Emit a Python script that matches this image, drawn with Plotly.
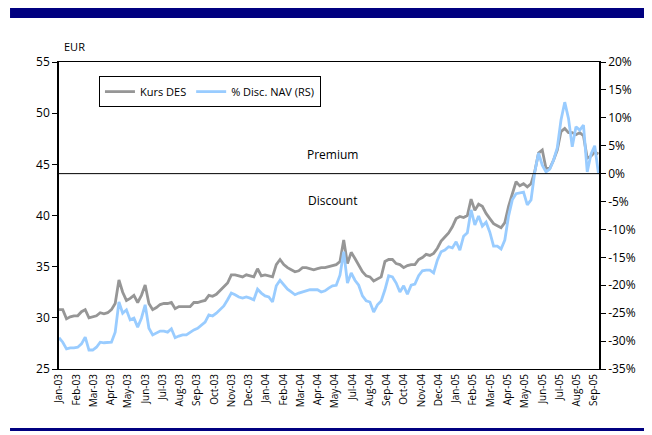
import pandas as pd
import plotly.graph_objects as go

# ---- data (weekly readings from 2003-01-01) ----
start_date = "2003-01-01"
kurs_des = [
    30.8, 30.8, 29.9, 30.1, 30.2, 30.2, 30.6, 30.8, 30.0, 30.1,
    30.2, 30.5, 30.4, 30.5, 30.8, 31.4, 33.7, 32.5, 31.7, 31.9,
    32.2, 31.5, 32.2, 33.2, 31.4, 30.8, 31.0, 31.3, 31.4, 31.4,
    31.5, 30.9, 31.1, 31.1, 31.1, 31.1, 31.5, 31.5, 31.6, 31.7,
    32.2, 32.1, 32.3, 32.7, 33.0, 33.4, 34.2, 34.2, 34.1, 34.0,
    34.2, 34.1, 34.0, 34.8, 34.1, 34.2, 34.1, 34.0, 35.2, 35.7,
    35.2, 34.9, 34.7, 34.5, 34.6, 34.9, 34.9, 34.8, 34.7, 34.8,
    34.9, 34.9, 35.0, 35.1, 35.2, 35.5, 37.6, 35.3, 36.4, 35.8,
    35.2, 34.5, 34.1, 34.0, 33.6, 33.8, 34.0, 35.5, 35.7, 35.7,
    35.3, 35.2, 34.9, 35.1, 35.2, 35.2, 35.7, 35.9, 36.2, 36.1,
    36.3, 36.8, 37.5, 37.9, 38.3, 38.9, 39.7, 39.9, 39.8, 40.0,
    41.6, 40.5, 41.1, 40.9, 40.2, 39.7, 39.2, 39.0, 38.8, 39.3,
    40.9, 42.1, 43.3, 42.9, 43.1, 42.8, 43.1, 44.3, 46.1, 46.4,
    44.6, 44.6, 45.4, 46.4, 48.2, 48.5, 48.1, 48.1, 47.9, 48.1,
    47.8, 45.6, 45.8, 46.2, 46.0,
]
disc_nav = [
    -29.4, -30.2, -31.4, -31.2, -31.2, -31.1, -30.5, -29.3, -31.6, -31.6,
    -31.1, -30.2, -30.3, -30.3, -30.2, -28.4, -23.0, -25.0, -24.4, -26.2,
    -25.9, -27.5, -25.9, -23.5, -27.7, -28.9, -28.6, -28.2, -28.2, -28.4,
    -27.8, -29.4, -29.1, -28.9, -28.9, -28.4, -28.0, -27.7, -27.1, -26.6,
    -25.3, -25.5, -25.0, -24.3, -23.7, -22.6, -21.4, -21.7, -22.1, -22.3,
    -22.1, -22.3, -22.6, -20.7, -21.4, -21.9, -22.1, -23.0, -20.1, -19.1,
    -20.0, -20.7, -21.2, -21.7, -21.4, -21.2, -21.0, -20.8, -20.8, -20.8,
    -21.2, -21.0, -20.5, -20.1, -20.0, -18.2, -14.0, -19.6, -17.8, -19.1,
    -20.0, -21.9, -22.8, -23.0, -24.8, -23.5, -22.8, -20.8, -18.3, -18.5,
    -19.6, -21.2, -20.1, -21.6, -20.0, -19.8, -18.3, -17.4, -17.3, -17.3,
    -17.8, -15.5, -14.0, -13.7, -13.1, -13.3, -12.2, -13.7, -11.2, -10.6,
    -6.5, -9.2, -7.6, -9.4, -8.7, -10.5, -13.0, -13.0, -13.5, -11.9,
    -7.6, -4.7, -3.6, -3.5, -3.3, -5.6, -4.7, 0.3, 3.7, 1.5,
    0.3, 0.8, 2.4, 4.6, 9.6, 12.8, 9.9, 4.8, 8.4, 7.8,
    8.7, 0.3, 3.5, 5.0, 0.0,
]
month_labels = [
    "Jan-03", "Feb-03", "Mar-03", "Apr-03", "May-03", "Jun-03", "Jul-03", "Aug-03",
    "Sep-03", "Oct-03", "Nov-03", "Dec-03", "Jan-04", "Feb-04", "Mar-04", "Apr-04",
    "May-04", "Jul-04", "Aug-04", "Sep-04", "Oct-04", "Nov-04", "Dec-04", "Jan-05",
    "Feb-05", "Mar-05", "Apr-05", "May-05", "Jun-05", "Jul-05", "Aug-05", "Sep-05",
]
left_ticks = [25, 30, 35, 40, 45, 50, 55]
right_ticks = [20, 15, 10, 5, 0, -5, -10, -15, -20, -25, -30, -35]

dates = pd.date_range(start_date, periods=len(kurs_des), freq="7D")
t0 = pd.Timestamp(start_date)
tick_dates = [t0 + pd.Timedelta(days=32.25 * i) for i in range(len(month_labels))]

FONT = "Open Sans"
GREY = "#969696"
BLUE = "#99CCFF"
NAVY = "#000080"

fig = go.Figure()
fig.add_trace(go.Scatter(x=dates, y=kurs_des, name="Kurs DES", mode="lines",
                         line=dict(color=GREY, width=2.8), yaxis="y"))
fig.add_trace(go.Scatter(x=dates, y=disc_nav, name="% Disc. NAV (RS)", mode="lines",
                         line=dict(color=BLUE, width=2.8), yaxis="y2"))

fig.update_layout(
    width=644, height=427,
    margin=dict(l=51, r=53, t=54, b=66),
    paper_bgcolor="white", plot_bgcolor="white",
    font=dict(family=FONT, size=11, color="black"),
    showlegend=True,
    legend=dict(orientation="h", x=0.074, y=0.954, xanchor="left", yanchor="top",
                bordercolor="black", borderwidth=1, bgcolor="white",
                font=dict(family=FONT, size=11), itemwidth=30,
                tracegroupgap=0),
    xaxis=dict(type="date", range=[t0, t0 + pd.Timedelta(days=1009)],
               tickvals=tick_dates, ticktext=month_labels, tickangle=-90,
               showgrid=False, zeroline=False, showline=True, linecolor="black",
               linewidth=1, mirror=True, ticks="", tickfont=dict(size=10)),
    yaxis=dict(range=[25, 55], tickvals=left_ticks, ticks="outside", ticklen=5,
               tickcolor="black", showgrid=False, zeroline=False, showline=True,
               linecolor="black", linewidth=1.5, tickfont=dict(size=12)),
    yaxis2=dict(range=[-35, 20], overlaying="y", side="right",
                tickvals=right_ticks, ticktext=[f"{v}%" for v in right_ticks],
                ticks="outside", ticklen=5, tickcolor="black", showgrid=False,
                zeroline=False, showline=True, linecolor="black", linewidth=1.5,
                tickfont=dict(size=12)),
    shapes=[
        dict(type="rect", xref="paper", yref="paper", x0=-0.0907, x1=1.1,
             y0=1.1433, y1=1.1824, fillcolor=NAVY, line=dict(width=0)),
        dict(type="rect", xref="paper", yref="paper", x0=-0.0907, x1=1.1,
             y0=-0.2020, y1=-0.1922, fillcolor=NAVY, line=dict(width=0)),
        dict(type="line", xref="paper", yref="y2", x0=0, x1=1, y0=0, y1=0,
             line=dict(color="black", width=1), layer="above"),
    ],
    annotations=[
        dict(text="EUR", xref="paper", yref="paper", x=0.0056, y=1.052,
             xanchor="left", yanchor="middle", showarrow=False, font=dict(size=11)),
        dict(text="Premium", xref="paper", yref="paper", x=0.507, y=0.700,
             xanchor="center", yanchor="middle", showarrow=False, font=dict(size=12)),
        dict(text="Discount", xref="paper", yref="paper", x=0.507, y=0.550,
             xanchor="center", yanchor="middle", showarrow=False, font=dict(size=12)),
    ],
)

fig.write_html("out.html")
